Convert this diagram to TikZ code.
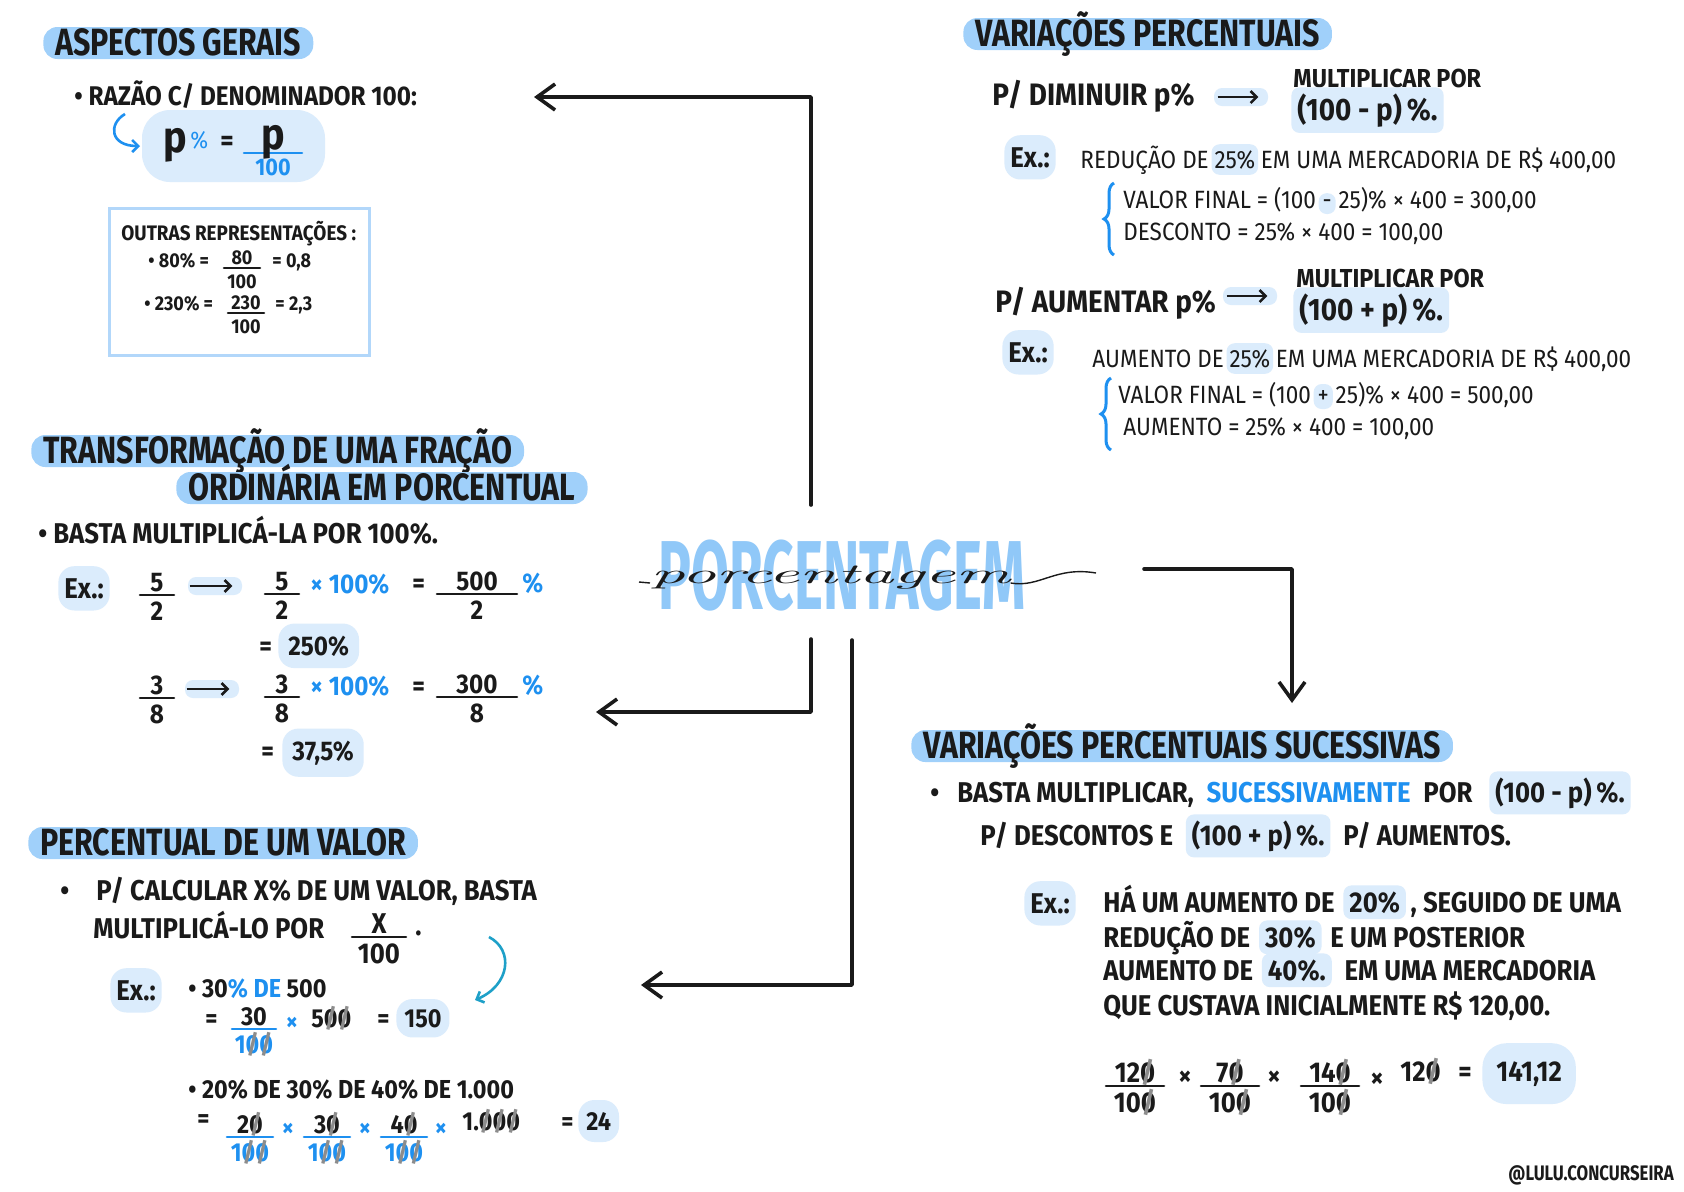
\documentclass[tikz,border=0pt]{standalone}
\usepackage{fontspec}
\setmainfont{Fira Sans}
\newfontfamily\hand[FakeStretch=0.9]{Fira Sans}
\newfontfamily\handhead[FakeStretch=0.8]{Fira Sans}
\newfontfamily\bigtitle[FakeStretch=0.56]{Fira Sans}
\newfontfamily\cursive[FakeStretch=2.4]{lmroman10-italic.otf}
\usetikzlibrary{arrows.meta, positioning, decorations.pathreplacing}

\definecolor{ink}{RGB}{26,26,26}
\definecolor{pillblue}{RGB}{160,208,250}
\definecolor{blob}{RGB}{219,236,252}
\definecolor{pen}{RGB}{30,144,240}
\definecolor{boxblue}{RGB}{178,215,250}
\definecolor{titleblue}{RGB}{144,200,248}
\definecolor{tealpen}{RGB}{30,160,200}
\definecolor{cutgrey}{RGB}{140,140,140}

\newcommand\zcut{\ooalign{0\cr\hidewidth\textcolor{cutgrey}{/}\hidewidth\cr}}
\newcommand\hfrac[7]{%
  \draw[fracbar, draw=#7] (#2-#4,#3) -- (#2+#4,#3);
  \node[fnum] (#1n) at (#2,#3-4) {#5};
  \node[fden, text=#7] (#1d) at (#2,#3+6) {#6};}

\begin{document}
\begin{tikzpicture}[x=0.5pt, y=-0.5pt, >={Straight Barb[length=9pt, width=13pt]},
  font=\hand\bfseries\fontsize{14.3}{16}\selectfont, text=ink,
  heading/.style={anchor=base west, font=\handhead\bfseries\fontsize{19}{20}\selectfont, fill=pillblue, rounded corners=7pt, text height=13pt, text depth=1pt, inner xsep=6pt, inner ysep=1pt},
  txt/.style={anchor=base west, inner sep=0pt},
  bigtxt/.style={txt, font=\hand\bfseries\fontsize{15.5}{17}\selectfont},
  midtxt/.style={txt, font=\hand\bfseries\fontsize{13}{15}\selectfont},
  note/.style={txt, font=\hand\fontsize{12.5}{14}\selectfont},
  boxtxt/.style={txt, font=\hand\bfseries\fontsize{10}{12}\selectfont},
  hl/.style={fill=blob, rounded corners=4pt, inner xsep=3pt, inner ysep=3pt},
  exbox/.style={anchor=base west, fill=blob, rounded corners=8pt, inner xsep=3pt, inner ysep=6pt},
  arrspot/.style={fill=blob, rounded corners=4pt, minimum width=27pt, minimum height=9pt, inner sep=0pt},
  conn/.style={->, draw=ink, line width=1.8pt, line cap=round, line join=round},
  tinyarrow/.style={-{Straight Barb[length=3pt, width=6pt]}, draw=ink, line width=1.3pt},
  curl/.style={-{Straight Barb[length=3pt, width=6pt]}, line width=1.3pt},
  fracbar/.style={line width=1.3pt, line cap=round},
  fnum/.style={anchor=base, inner sep=0pt},
  fden/.style={anchor=north, inner sep=0pt},
  bracket/.style={draw=pen, line width=1.5pt, decorate, decoration={brace, amplitude=5pt}}]

  \fill[white] (0,0) rectangle (1684,1191);
  \useasboundingbox (0,0) rectangle (1684,1191);

  \node[font=\bigtitle\bfseries\fontsize{49}{49}\selectfont, text=titleblue, inner sep=0pt] (porc) at (842,576) {PORCENTAGEM};
  \node[anchor=base west, inner sep=0pt, font=\cursive\fontsize{14}{14}\selectfont] (script) at (650,583) {porcentagem};
  \draw[ink, line width=0.7pt] (639,582) -- (script.base west);
  \draw[ink, line width=0.7pt] (script.base east) .. controls (1040,588) and (1055,566) .. (1096,573);

  \coordinate (hubN) at (811,505);
  \coordinate (hubS) at (811,639);
  \coordinate (hubS2) at (852,640);
  \coordinate (hubE) at (1144,569);
  \coordinate (toAsp) at (534,97);
  \coordinate (toTrans) at (596,712);
  \coordinate (toVal) at (641,985);
  \coordinate (toSuc) at (1292,703);
  \draw[conn] (hubN) |- (toAsp);
  \draw[conn] (hubS) |- (toTrans);
  \draw[conn] (hubS2) |- (toVal);
  \draw[conn] (hubE) -| (toSuc);

  \node[heading] (asp) at (43,55) {ASPECTOS GERAIS};
  \node[txt, font=\hand\bfseries\fontsize{13.5}{15}\selectfont] (razao) at (74,105) {\textbullet\ RAZÃO C/ DENOMINADOR 100:};
  \fill[blob, rounded corners=14pt] (142,110) rectangle (325,182);
  \draw[curl, draw=pen] (125,114) .. controls (108,124) and (110,146) .. (140,146);
  \node[txt, font=\hand\bfseries\fontsize{22}{22}\selectfont] (pp) at (163,152) {p};
  \node[txt, text=pen, font=\hand\fontsize{12}{12}\selectfont] (ppct) at (190,148) {\%};
  \node[txt] (peq) at (220,150) {=};
  \hfrac{pdef}{273}{153}{29}{\fontsize{22}{22}\selectfont p}{\fontsize{12}{13}\selectfont 100}{pen}

  \node[draw=boxblue, line width=1.6pt, minimum width=130pt, minimum height=73.5pt, anchor=north west, inner sep=0pt] (other) at (108,207) {};
  \node[boxtxt, font=\hand\bfseries\fontsize{10.5}{12}\selectfont] (outras) at (121,240) {OUTRAS REPRESENTAÇÕES :};
  \begin{scope}[font=\hand\bfseries\fontsize{10}{12}\selectfont]
    \node[boxtxt] (r80) at (148,267) {\textbullet\ 80\% =};
    \hfrac{f80}{242}{268}{18}{80}{100}{ink}
    \node[boxtxt] (r80v) at (272,267) {= 0,8};
    \node[boxtxt] (r230) at (144,310) {\textbullet\ 230\% =};
    \hfrac{f230}{246}{313}{18}{230}{100}{ink}
    \node[boxtxt] (r230v) at (275,310) {= 2,3};
  \end{scope}

  \node[heading] (var) at (963,46) {VARIAÇÕES PERCENTUAIS};
  \node[bigtxt] (dim) at (992,105) {P/ DIMINUIR p\%};
  \node[arrspot] (dimspot) at (1241,97) {};
  \draw[tinyarrow] ([xshift=2pt]dimspot.west) -- ([xshift=-5pt]dimspot.east);
  \node[midtxt] (dimmul) at (1293,87) {MULTIPLICAR POR};
  \node[bigtxt, hl] (dimfac) at (1291,120) {(100 - p)\,\%.};
  \node[exbox] (ex1) at (1004,167) {Ex.:};
  \node[note] (red) at (1080,168) {REDUÇÃO DE};
  \node[note, hl, inner xsep=1.5pt, base right=1pt of red] (red25) {25\%};
  \node[note, base right=1pt of red25] (redrest) {EM UMA MERCADORIA DE R\$ 400,00};
  \draw[bracket] (1114,255) -- (1114,183);
  \node[note] (vf1) at (1123,208) {VALOR FINAL = (100};
  \node[note, hl, inner xsep=2pt, base right=1pt of vf1] (vf1m) {-};
  \node[note, base right=1pt of vf1m] (vf1r) {25)\% × 400 = 300,00};
  \node[note] (desc) at (1123,240) {DESCONTO = 25\% × 400 = 100,00};

  \node[bigtxt] (aum) at (995,312) {P/ AUMENTAR p\%};
  \node[arrspot] (aumspot) at (1250,296) {};
  \draw[tinyarrow] ([xshift=2pt]aumspot.west) -- ([xshift=-5pt]aumspot.east);
  \node[midtxt] (aummul) at (1296,287) {MULTIPLICAR POR};
  \node[bigtxt, hl] (aumfac) at (1293,320) {(100 + p)\,\%.};
  \node[exbox] (ex2) at (1002,362) {Ex.:};
  \node[note] (aug) at (1092,367) {AUMENTO DE};
  \node[note, hl, inner xsep=1.5pt, base right=1pt of aug] (aug25) {25\%};
  \node[note, base right=1pt of aug25] (augrest) {EM UMA MERCADORIA DE R\$ 400,00};
  \draw[bracket] (1111,450) -- (1111,378);
  \node[note] (vf2) at (1118,403) {VALOR FINAL = (100};
  \node[note, hl, inner xsep=2pt, base right=1pt of vf2] (vf2p) {+};
  \node[note, base right=1pt of vf2p] (vf2r) {25)\% × 400 = 500,00};
  \node[note] (aumv) at (1123,435) {AUMENTO = 25\% × 400 = 100,00};

  \node[heading] (trans) at (31,463) {TRANSFORMAÇÃO DE UMA FRAÇÃO};
  \node[heading] (trans2) at (176,500) {ORDINÁRIA EM PORCENTUAL};
  \node[txt] (basta) at (38,543) {\textbullet\ BASTA MULTIPLICÁ-LA POR 100\%.};
  \node[exbox] (ex3) at (58,598) {Ex.:};
  \begin{scope}[font=\hand\bfseries\fontsize{13.5}{15}\selectfont]
    \hfrac{fa}{157}{595}{17}{5}{2}{ink}
    \node[arrspot] (spota) at (215,586) {};
    \draw[tinyarrow] ([xshift=1pt]spota.west) -- ([xshift=-5pt]spota.east);
    \hfrac{fb}{282}{594}{17}{5}{2}{ink}
    \node[txt, text=pen] (pa) at (310,593) {× 100\%};
    \node[txt] (eqa) at (412,592) {=};
    \hfrac{fc}{477}{594}{40}{500}{2}{ink}
    \node[txt, text=pen] (pcta) at (522,592) {\%};
    \node[txt] (eqa2) at (259,655) {=};
    \node[txt, hl, inner xsep=5pt, inner ysep=6pt, rounded corners=8pt] (r250) at (278,655) {250\%};
    \hfrac{fd}{157}{698}{17}{3}{8}{ink}
    \node[arrspot] (spotd) at (212,689) {};
    \draw[tinyarrow] ([xshift=1pt]spotd.west) -- ([xshift=-5pt]spotd.east);
    \hfrac{fe}{282}{697}{17}{3}{8}{ink}
    \node[txt, text=pen] (pd) at (310,695) {× 100\%};
    \node[txt] (eqd) at (412,695) {=};
    \hfrac{ff}{477}{697}{40}{300}{8}{ink}
    \node[txt, text=pen] (pctd) at (522,694) {\%};
    \node[txt] (eqd2) at (261,760) {=};
    \node[txt, hl, inner xsep=5pt, inner ysep=6pt, rounded corners=8pt] (r375) at (282,760) {37,5\%};
  \end{scope}

  \node[heading] (perc) at (28,855) {PERCENTUAL DE UM VALOR};
  \node[txt] (calcb) at (60,900) {\textbullet};
  \node[txt] (calc) at (96,900) {P/ CALCULAR X\% DE UM VALOR, BASTA};
  \node[txt] (mult) at (93,938) {MULTIPLICÁ-LO POR};
  \hfrac{fx}{379}{937}{27}{X}{100}{ink}
  \node[txt] (dot) at (415,935) {.};
  \coordinate (tealA) at (489,937);
  \coordinate (tealB) at (475,1000);
  \draw[curl, draw=tealpen] (tealA) .. controls (514,950) and (510,985) .. (tealB);
  \node[exbox] (ex4) at (110,1000) {Ex.:};
  \begin{scope}[font=\hand\bfseries\fontsize{13}{15}\selectfont]
    \node[txt] (v30) at (188,997) {\textbullet\ 30\textcolor{pen}{\% DE} 500};
    \node[txt] (v30eq) at (205,1027) {=};
    \hfrac{fv}{254}{1029}{22}{30}{1\zcut\zcut}{pen}
    \node[text=pen] (v30x) at (292,1024) {×};
    \node[txt] (v500) at (311,1027) {5\zcut\zcut};
    \node[txt] (v30eq2) at (377,1027) {=};
    \node[txt, hl, inner xsep=4pt, inner ysep=5pt, rounded corners=8pt] (v150) at (396,1027) {150};
    \node[txt] (v20) at (188,1098) {\textbullet\ 20\% DE 30\% DE 40\% DE 1.000};
    \node[txt] (v20eq) at (197,1127) {=};
    \hfrac{fw}{250}{1137}{23}{2\zcut}{1\zcut\zcut}{pen}
    \node[text=pen] (vx1) at (288,1130) {×};
    \hfrac{fy}{327}{1137}{23}{3\zcut}{1\zcut\zcut}{pen}
    \node[text=pen] (vx2) at (365,1130) {×};
    \hfrac{fz}{404}{1137}{23}{4\zcut}{1\zcut\zcut}{pen}
    \node[text=pen] (vx3) at (441,1130) {×};
    \node[txt] (v1000) at (462,1130) {1.\zcut\zcut\zcut};
    \node[txt] (v20eq2) at (561,1130) {=};
    \node[txt, hl, inner xsep=4pt, inner ysep=6pt, rounded corners=8pt] (v24) at (578,1130) {24};
  \end{scope}

  \node[heading] (suc) at (911,758) {VARIAÇÕES PERCENTUAIS SUCESSIVAS};
  \node[txt] (sucb) at (930,802) {\textbullet};
  \node[txt] (suc1) at (957,802) {BASTA MULTIPLICAR,};
  \node[txt, text=pen, base right=6pt of suc1] (suc1b) {SUCESSIVAMENTE};
  \node[txt, base right=6pt of suc1b] (suc1c) {POR};
  \node[txt, hl, base right=8pt of suc1c] (suc1d) {(100 - p)\,\%.};
  \node[txt] (suc2) at (980,845) {P/ DESCONTOS E};
  \node[txt, hl, base right=6pt of suc2] (suc2b) {(100 + p)\,\%.};
  \node[txt, base right=6pt of suc2b] (suc2c) {P/ AUMENTOS.};
  \node[exbox] (ex5) at (1024,913) {Ex.:};
  \node[txt] (h1) at (1103,912) {HÁ UM AUMENTO DE};
  \node[txt, hl, base right=4pt of h1] (h1b) {20\%};
  \node[txt, base right=2pt of h1b] (h1c) {, SEGUIDO DE UMA};
  \node[txt] (h2) at (1103,947) {REDUÇÃO DE};
  \node[txt, hl, base right=4pt of h2] (h2b) {30\%};
  \node[txt, base right=4pt of h2b] (h2c) {E UM POSTERIOR};
  \node[txt] (h3) at (1103,980) {AUMENTO DE};
  \node[txt, hl, base right=4pt of h3] (h3b) {40\%.};
  \node[txt, base right=6pt of h3b] (h3c) {EM UMA MERCADORIA};
  \node[txt] (h4) at (1103,1015) {QUE CUSTAVA INICIALMENTE R\$ 120,00.};
  \hfrac{g1}{1135}{1086}{29}{12\zcut}{10\zcut}{ink}
  \node (gx1) at (1185,1078) {×};
  \hfrac{g2}{1230}{1086}{29}{7\zcut}{10\zcut}{ink}
  \node (gx2) at (1274,1078) {×};
  \hfrac{g3}{1330}{1086}{29}{14\zcut}{10\zcut}{ink}
  \node (gx3) at (1377,1080) {×};
  \node[txt] (g120) at (1400,1081) {12\zcut};
  \node[txt] (geq) at (1458,1081) {=};
  \node[txt, hl, inner xsep=7pt, inner ysep=9pt, rounded corners=12pt] (gres) at (1482,1081) {141,12};

  \node[txt, font=\handhead\bfseries\fontsize{10.5}{12}\selectfont] (sig) at (1508,1180) {@LULU.CONCURSEIRA};
\end{tikzpicture}
\end{document}
